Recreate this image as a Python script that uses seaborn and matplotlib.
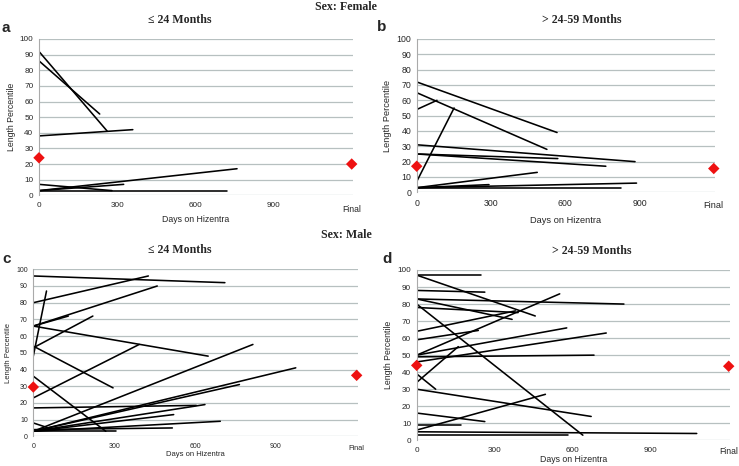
import matplotlib
matplotlib.use("Agg")
import matplotlib.pyplot as plt
import matplotlib.transforms as mtransforms
import pandas as pd
import seaborn as sns

# every patient line starts at day 0: starting percentile, last day, last percentile
a_start = [92, 86, 38, 3, 3, 7, 3]
a_end_day = [262, 233, 360, 760, 325, 280, 722]
a_end_pct = [41, 52, 42, 17, 7, 3, 3]
a_mean = [24, 20]

b_start = [72, 65, 54, 7, 31, 25, 25, 3, 3, 3, 3]
b_end_day = [567, 526, 82, 151, 882, 570, 764, 487, 888, 292, 827]
b_end_pct = [39, 28, 60, 55, 20, 22, 17, 13, 6, 5, 3]
b_mean = [17, 15.5]

c_start = [96, 80, 66, 66, 48, 53, 66, 54, 23, 36, 3, 3, 3, 17, 3, 3, 3, 4, 3, 8]
c_end_day = [711, 427, 460, 130, 49, 221, 649, 296, 393, 269, 815, 974, 765, 605, 637, 521, 694, 516, 306, 75]
c_end_pct = [92, 96, 90, 72, 87, 72, 48, 29, 55, 3, 55, 41, 31, 18.5, 19, 13, 9, 5, 3, 4]
c_mean = [29.5, 36.5]

d_start = [97, 97, 88, 83, 83, 80, 78, 64, 59, 50, 50, 46, 49, 34, 39, 30, 6, 16, 9, 5, 3]
d_end_day = [247, 456, 262, 797, 367, 639, 390, 380, 237, 550, 577, 729, 682, 160, 73, 671, 495, 262, 170, 1077, 580]
d_end_pct = [97, 73, 87, 80, 71, 3, 75, 76, 64.5, 86, 66, 63, 50, 55, 30, 14, 27, 11, 9, 4, 3]
d_mean = [44, 43.5]

x_ticks = [0, 300, 600, 900]
final_day = 1200
y_ticks = list(range(0, 101, 10))

W, H = 739, 466
SANS = ["Liberation Sans", "DejaVu Sans"]
SERIF = ["Liberation Serif", "DejaVu Serif"]


def segments(start, end_day, end_pct):
    rows = []
    for i, (s, d, e) in enumerate(zip(start, end_day, end_pct)):
        rows.append({"seg": i, "day": 0, "pct": s})
        rows.append({"seg": i, "day": d, "pct": e})
    return pd.DataFrame(rows)


def panel(fig, box, start, end_day, end_pct, mean, title, letter, xlab_y, final_dy,
          tick_fs, lab_fs):
    left, top, right, bottom = box
    ax = fig.add_axes([left / W, 1 - bottom / H, (right - left) / W, (bottom - top) / H])
    df = segments(start, end_day, end_pct)
    sns.lineplot(data=df, x="day", y="pct", units="seg", estimator=None,
                 color="black", lw=1.15, ax=ax, legend=False)
    means = pd.DataFrame({"day": [0, final_day], "pct": mean})
    sns.scatterplot(data=means, x="day", y="pct", marker="D", color="#ee1111",
                    s=34, edgecolor="none", ax=ax, clip_on=False, zorder=5)
    ax.set_xlim(0, 1205)
    ax.set_ylim(0, 100)
    ax.set_yticks(y_ticks)
    ax.set_xticks(x_ticks)
    ax.tick_params(axis="both", labelsize=tick_fs, length=2, width=0.6, color="#999999", pad=2)
    ax.tick_params(axis="x", pad=3)
    for lab in ax.get_xticklabels() + ax.get_yticklabels():
        lab.set_family(SANS)
    ax.grid(axis="y", color="#b7c0c0", lw=0.9)
    ax.grid(axis="x", visible=False)
    ax.set_axisbelow(True)
    for side in ["top", "right", "bottom"]:
        ax.spines[side].set_visible(False)
    ax.spines["left"].set_color("#aaaaaa")
    ax.spines["left"].set_linewidth(0.8)
    ax.set_xlabel("")
    ax.set_ylabel("Length Percentile", fontsize=lab_fs, family=SANS, labelpad=3)
    trans = mtransforms.blended_transform_factory(ax.transData, fig.transFigure)
    ax.text(final_day, 1 - final_dy / H, "Final", transform=trans, ha="center", va="center",
            fontsize=tick_fs + 0.3, family=SANS)
    fig.text((left + right) / 2 / W, 1 - xlab_y / H, "Days on Hizentra", ha="center",
             va="center", fontsize=lab_fs, family=SANS)
    fig.text(title[1] / W, 1 - (top - 19) / H, title[0], ha="center", va="center",
             fontsize=8.6, weight="bold", family=SERIF)
    fig.text(letter[0] / W, 1 - letter[1] / H, letter[2], ha="left", va="center",
             fontsize=11, weight="bold", family=SANS)
    return ax


sns.set_theme(style="white")
fig = plt.figure(figsize=(W / 100, H / 100), dpi=100)
fig.patch.set_facecolor("white")

fig.text(346 / W, 1 - 7 / H, "Sex: Female", ha="center", va="center",
         fontsize=8.6, weight="bold", family=SERIF)
fig.text(346 / W, 1 - 235 / H, "Sex: Male", ha="center", va="center",
         fontsize=8.6, weight="bold", family=SERIF)

panel(fig, (39, 39, 353, 195.3), a_start, a_end_day, a_end_pct, a_mean,
      ("\u2264 24 Months", 180), (2, 28, "a"), 219, 209, 5.9, 6.3)
panel(fig, (416.7, 39, 715, 192.3), b_start, b_end_day, b_end_pct, b_mean,
      ("> 24-59 Months", 582), (377, 27, "b"), 220.5, 205.5, 6.3, 6.7)
panel(fig, (33.3, 269.3, 358, 436.3), c_start, c_end_day, c_end_pct, c_mean,
      ("\u2264 24 Months", 180), (2, 259, "c"), 455, 449, 5.0, 5.5)
panel(fig, (416.7, 270, 730, 440.3), d_start, d_end_day, d_end_pct, d_mean,
      ("> 24-59 Months", 592), (382, 259, "d"), 460, 452, 5.9, 6.3)

fig.savefig("out.png", dpi=100, facecolor="white")
